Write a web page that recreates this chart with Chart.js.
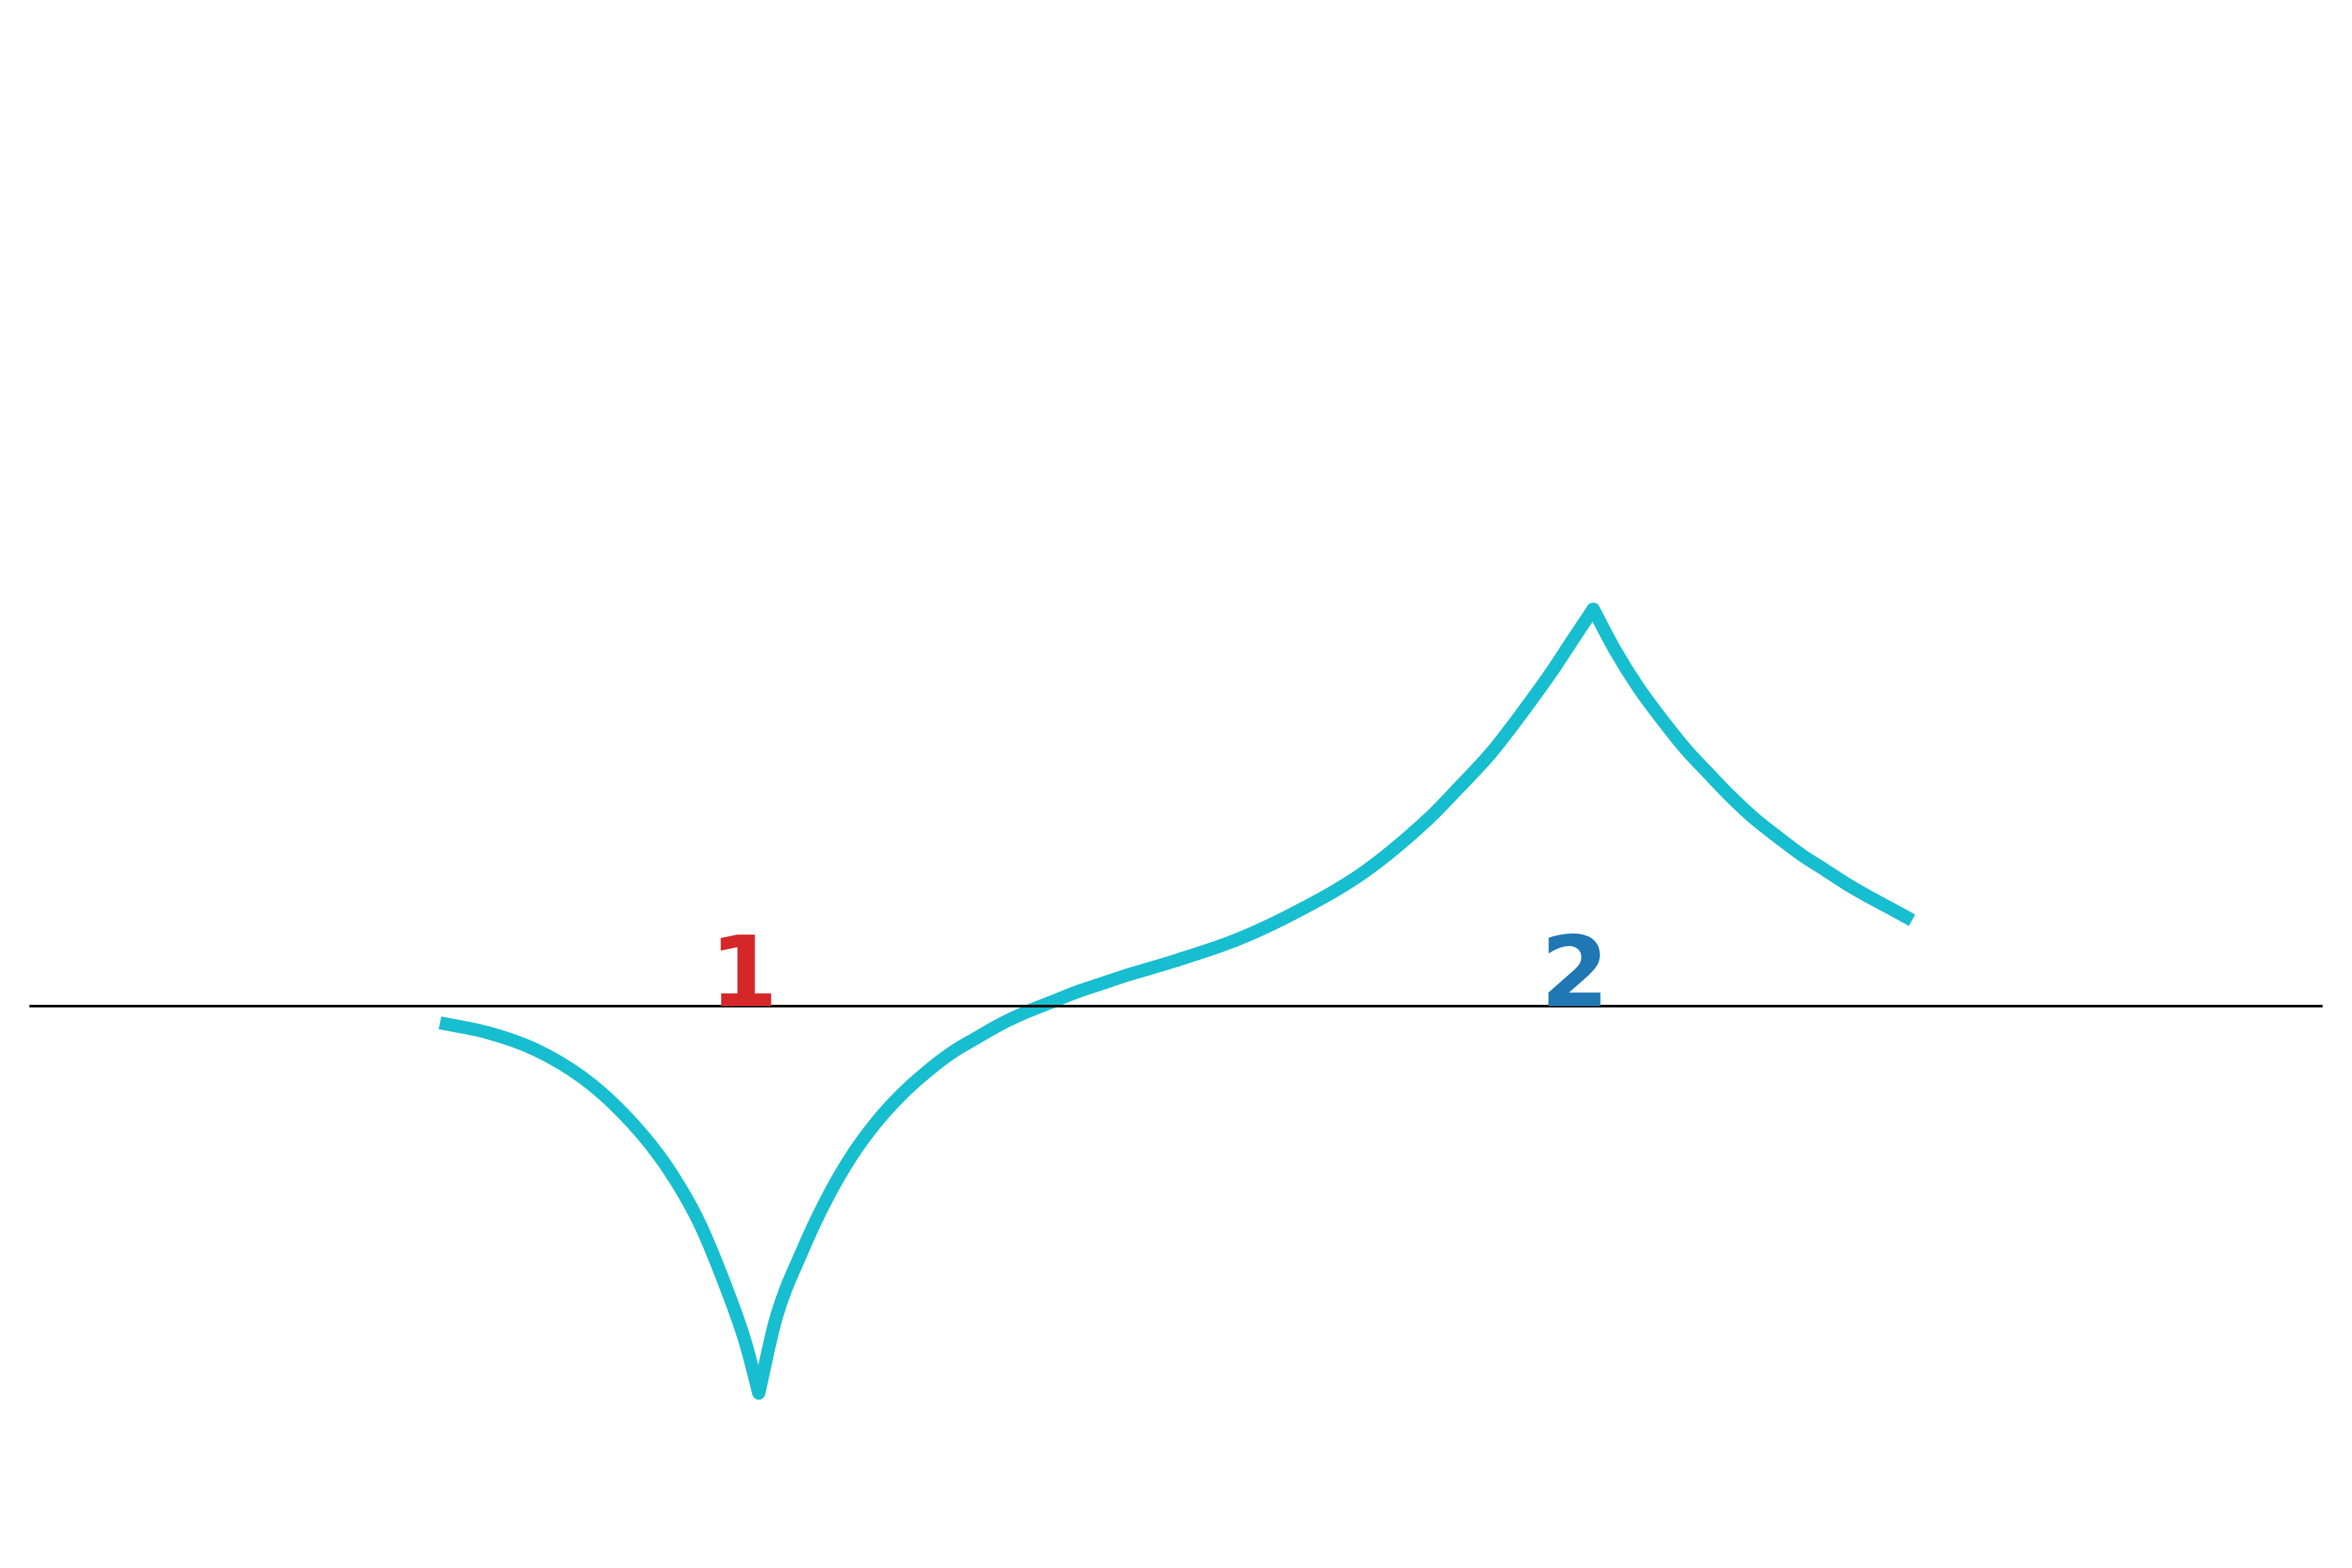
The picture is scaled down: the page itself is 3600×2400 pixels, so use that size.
<!DOCTYPE html>
<html>
<head>
<meta charset="utf-8">
<style>
  html, body { margin: 0; padding: 0; background: #fff; }
  #wrap { width: 3600px; height: 2400px; position: relative; }
</style>
<script src="https://cdn.jsdelivr.net/npm/chart.js@4"></script>
</head>
<body>
<div id="wrap"><canvas id="curveChart"></canvas></div>
<script>
// Curve samples, split at the two cusps
const leftX = [0.618, 0.676, 0.732, 0.788, 0.830, 0.872, 0.900, 0.928, 0.955, 0.984, 1.000];
const leftY = [-0.020, -0.032, -0.052, -0.085, -0.121, -0.168, -0.208, -0.258, -0.322, -0.403, -0.464];

const midX = [
  1.000, 1.021, 1.051, 1.081, 1.111, 1.141, 1.171, 1.201, 1.231, 1.261, 1.291,
  1.321, 1.351, 1.381, 1.411, 1.441, 1.498, 1.574, 1.650, 1.726, 1.802, 1.839,
  1.878, 1.915, 1.953, 1.976, 2.000,
];
const midY = [
  -0.464, -0.373, -0.296, -0.232, -0.180, -0.139, -0.106, -0.079, -0.056, -0.038, -0.021,
  -0.007, 0.005, 0.017, 0.027, 0.037, 0.054, 0.080, 0.116, 0.161, 0.224, 0.262,
  0.304, 0.352, 0.405, 0.440, 0.476,
];

const rightX = [2.000, 2.026, 2.054, 2.082, 2.110, 2.138, 2.166, 2.194, 2.222, 2.250, 2.278, 2.306, 2.334, 2.362, 2.382];
const rightY = [0.476, 0.427, 0.382, 0.344, 0.309, 0.279, 0.250, 0.224, 0.202, 0.181, 0.163, 0.145, 0.129, 0.114, 0.103];

// cusp tips (round join)
const cuspX = [1.000, 2.000];
const cuspY = [-0.464, 0.476];

// Horizontal axis line
const axisX = [0.126, 2.874];
const axisY = [0, 0];

// Labels sitting on the axis
const labelText = ['1', '2'];
const labelX = [0.982, 1.978];
const labelColors = ['#d62728', '#1f77b4'];

const X_MIN = 0.126, X_MAX = 2.874;
const Y_MIN = -0.4855, Y_MAX = 1.018;
const CURVE_COLOR = '#17becf';

const toPoints = (xs, ys) => xs.map((x, i) => ({ x, y: ys[i] }));

const branch = (xs, ys) => ({
  data: toPoints(xs, ys),
  showLine: true,
  borderColor: CURVE_COLOR,
  borderWidth: 20,
  borderCapStyle: 'butt',
  borderJoinStyle: 'round',
  cubicInterpolationMode: 'monotone',
  capBezierPoints: false,
  pointRadius: 0,
  clip: false,
});

const axisLabels = {
  id: 'axisLabels',
  afterDatasetsDraw(chart) {
    const { ctx, scales } = chart;
    ctx.save();
    ctx.font = 'bold 150px "DejaVu Sans"';
    ctx.textAlign = 'center';
    ctx.textBaseline = 'alphabetic';
    labelText.forEach((t, i) => {
      ctx.fillStyle = labelColors[i];
      ctx.fillText(t, scales.x.getPixelForValue(labelX[i]), scales.y.getPixelForValue(0));
    });
    ctx.restore();
  }
};

new Chart(document.getElementById('curveChart'), {
  type: 'scatter',
  data: {
    datasets: [
      {
        data: toPoints(axisX, axisY),
        showLine: true,
        borderColor: '#000000',
        borderWidth: 4,
        pointRadius: 0,
        tension: 0,
        clip: false,
      },
      branch(leftX, leftY),
      branch(midX, midY),
      branch(rightX, rightY),
      {
        data: toPoints(cuspX, cuspY),
        showLine: false,
        pointRadius: 10,
        pointBorderWidth: 0,
        pointBackgroundColor: CURVE_COLOR,
        pointBorderColor: CURVE_COLOR,
        clip: false,
      },
    ]
  },
  options: {
    responsive: true,
    maintainAspectRatio: false,
    animation: false,
    devicePixelRatio: 1,
    layout: { padding: { left: 45, right: 45, top: 240, bottom: 240 } },
    plugins: {
      legend: { display: false },
      tooltip: { enabled: false },
    },
    scales: {
      x: { type: 'linear', min: X_MIN, max: X_MAX, display: false },
      y: { type: 'linear', min: Y_MIN, max: Y_MAX, display: false },
    }
  },
  plugins: [axisLabels]
});
</script>
</body>
</html>
